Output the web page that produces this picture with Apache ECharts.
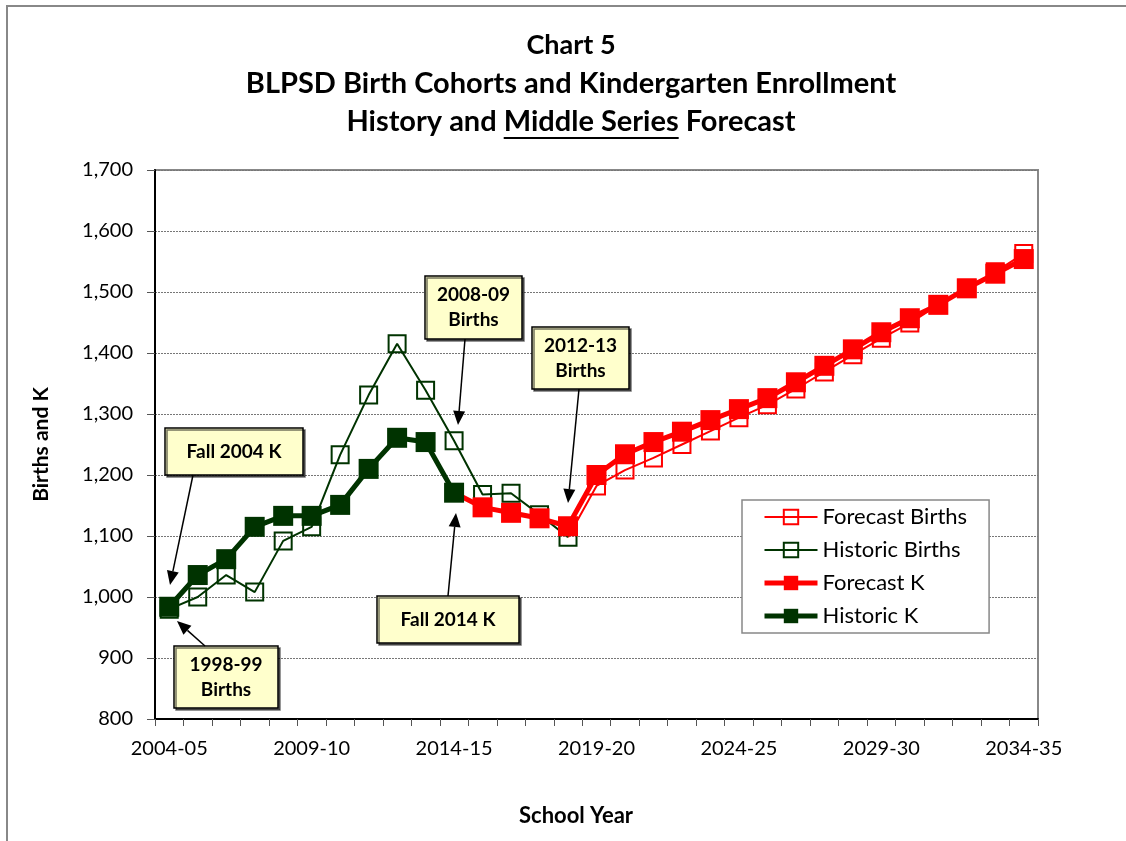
<!DOCTYPE html>
<html><head><meta charset="utf-8">
<script src="https://cdn.jsdelivr.net/npm/echarts@6/dist/echarts.min.js"></script>
<style>html,body{margin:0;padding:0;background:#fff}#c{width:1126px;height:841px}</style>
</head><body><div id="c"></div>
<script>
const years = ['2004-05','2005-06','2006-07','2007-08','2008-09','2009-10','2010-11','2011-12','2012-13','2013-14',
  '2014-15','2015-16','2016-17','2017-18','2018-19','2019-20','2020-21','2021-22','2022-23','2023-24',
  '2024-25','2025-26','2026-27','2027-28','2028-29','2029-30','2030-31','2031-32','2032-33','2033-34','2034-35'];
const historicBirths = [980,1000,1036,1008,1092,1115,1233,1331,1415,1339,1256,1168,1170,1135,1098,
  null,null,null,null,null,null,null,null,null,null,null,null,null,null,null,null];
const historicK = [984,1036,1062,1115,1133,1133,1151,1210,1261,1254,1171,
  null,null,null,null,null,null,null,null,null,null,null,null,null,null,null,null,null,null,null,null];
const forecastK = [null,null,null,null,null,null,null,null,null,null,
  1171,1147,1138,1129,1116,1200,1234,1254,1271,1290,1308,1326,1352,1379,1406,1434,1457,1479,1506,1530,1554];
const forecastBirths = [null,null,null,null,null,null,null,null,null,null,null,null,null,null,
  1098,1182,1208,1228,1250,1272,1294,1315,1341,1369,1397,1424,1449,1479,1506,1533,1563];
const yTicks = {min:800, max:1700, interval:100};

const FONT = 'Lato';
const GREEN = '#003300', RED = '#ff0000';

// forecast series start at the last historic point: hide that joining marker
function hideFirst(arr){
  let first = arr.findIndex(v => v !== null);
  return arr.map((v,i) => i === first ? {value:v, symbol:'none'} : v);
}

const chart = echarts.init(document.getElementById('c'), null, {renderer:'canvas'});

const ctx = document.createElement('canvas').getContext('2d');
const titleFont = 'bold 29px ' + FONT;
ctx.font = titleFont;
const l3a = 'History and ', l3b = 'Middle Series', l3c = ' Forecast';
const wA = ctx.measureText(l3a).width, wB = ctx.measureText(l3b).width, wAll = ctx.measureText(l3a+l3b+l3c).width;
const tcx = 571;
const ux0 = tcx - wAll/2 + wA, ux1 = ux0 + wB;

function arrow(x1,y1,x2,y2){
  const L = 14, W = 6;
  const dx = x2-x1, dy = y2-y1, d = Math.hypot(dx,dy);
  const ux = dx/d, uy = dy/d;
  const bx = x2 - ux*L, by = y2 - uy*L;
  return [
    {type:'line', shape:{x1:x1,y1:y1,x2:bx,y2:by}, style:{stroke:'#000', lineWidth:1.5}, z:50},
    {type:'polygon', shape:{points:[[x2,y2],[bx - uy*W, by + ux*W],[bx + uy*W, by - ux*W]]}, style:{fill:'#000'}, z:50}
  ];
}
function box(x,y,w,h,text){
  return [
    {type:'rect', shape:{x:x,y:y,width:w,height:h}, style:{fill:'#ffffcc', stroke:'#000', lineWidth:1.5,
      shadowColor:'rgba(0,0,0,0.55)', shadowOffsetX:2, shadowOffsetY:2, shadowBlur:0}, z:50},
    {type:'text', x:x+w/2, y:y+h/2, style:{text:text, font:'bold 19px '+FONT, fill:'#000', align:'center', verticalAlign:'middle', lineHeight:25}, z:51}
  ];
}

const graphics = [
  {type:'rect', shape:{x:7,y:6,width:1140,height:860}, style:{fill:'none', stroke:'#888', lineWidth:2}, z:0},
  {type:'text', x:tcx, y:45, style:{text:'Chart 5', font:'bold 27px '+FONT, fill:'#000', align:'center', verticalAlign:'middle'}},
  {type:'text', x:tcx, y:84, style:{text:'BLPSD Birth Cohorts and Kindergarten Enrollment', font:titleFont, fill:'#000', align:'center', verticalAlign:'middle'}},
  {type:'text', x:tcx, y:122, style:{text:l3a+l3b+l3c, font:titleFont, fill:'#000', align:'center', verticalAlign:'middle'}},
  {type:'line', shape:{x1:ux0,y1:138,x2:ux1,y2:138}, style:{stroke:'#000', lineWidth:2}},
  {type:'text', x:576, y:816, style:{text:'School Year', font:'bold 22px '+FONT, fill:'#000', align:'center', verticalAlign:'middle'}},
  ...box(165,428,138,47,'Fall 2004 K'), ...arrow(193,475,170,585),
  ...box(174,646,104,62,'1998-99\nBirths'), ...arrow(205,646,177,621),
  ...box(425,276,97,63,'2008-09\nBirths'), ...arrow(465,339,458,425),
  ...box(532,327,97,62,'2012-13\nBirths'), ...arrow(579,389,568,503),
  ...box(377,596,142,47,'Fall 2014 K'), ...arrow(448,596,456,513)
];

const hollow = (name, color, data, hide) => ({
  name, type:'line', data: hide ? hideFirst(data) : data, symbol:'rect', symbolSize:17, showAllSymbol:true,
  lineStyle:{color, width:2}, itemStyle:{color:'rgba(255,255,255,0)', borderColor:color, borderWidth:2},
  emphasis:{disabled:true}
});
const filled = (name, color, data, hide) => ({
  name, type:'line', data: hide ? hideFirst(data) : data, symbol:'rect', symbolSize:20, showAllSymbol:true,
  lineStyle:{color, width:5}, itemStyle:{color, borderColor:color, borderWidth:0},
  emphasis:{disabled:true}
});

chart.setOption({
  animation:false,
  backgroundColor:'#fff',
  textStyle:{fontFamily:FONT},
  grid:{left:155, top:170, right:88, bottom:122, show:true, borderColor:'#888', borderWidth:2, backgroundColor:'rgba(0,0,0,0)'},
  legend:{
    orient:'vertical', left:742, top:500, selectedMode:false,
    data:[
      {name:'Forecast Births', lineStyle:{width:2}},
      {name:'Historic Births', lineStyle:{width:2}},
      {name:'Forecast K', lineStyle:{width:5}},
      {name:'Historic K', lineStyle:{width:5}}
    ],
    itemWidth:53, itemHeight:18, itemGap:11,
    padding:[6,22,6,20], borderColor:'#888', borderWidth:1.5, backgroundColor:'#fff',
    textStyle:{fontFamily:FONT, fontSize:22, color:'#000', lineHeight:22}
  },
  xAxis:{
    type:'category', data:years, boundaryGap:true,
    axisLine:{lineStyle:{color:'#000', width:2}},
    axisTick:{show:true, interval:0, length:7, lineStyle:{color:'#555', width:1}},
    axisLabel:{interval:4, fontSize:20, color:'#000', margin:20, fontFamily:FONT},
    splitLine:{show:false}
  },
  yAxis:{
    type:'value', min:yTicks.min, max:yTicks.max, interval:yTicks.interval,
    name:'Births and K', nameLocation:'middle', nameGap:103, nameRotate:90,
    nameTextStyle:{fontFamily:FONT, fontWeight:'bold', fontSize:21, color:'#000'},
    axisLine:{show:true, lineStyle:{color:'#000', width:2}},
    axisTick:{show:true, length:8, lineStyle:{color:'#555'}},
    axisLabel:{fontSize:20, color:'#000', margin:22, fontFamily:FONT, formatter: v => v.toLocaleString('en-US')},
    splitLine:{show:true, lineStyle:{color:'#777', width:1, type:[2,1]}}
  },
  series:[
    hollow('Forecast Births', RED, forecastBirths, true),
    hollow('Historic Births', GREEN, historicBirths, false),
    filled('Forecast K', RED, forecastK, true),
    filled('Historic K', GREEN, historicK, false)
  ],
  graphic: graphics
});
</script></body></html>
